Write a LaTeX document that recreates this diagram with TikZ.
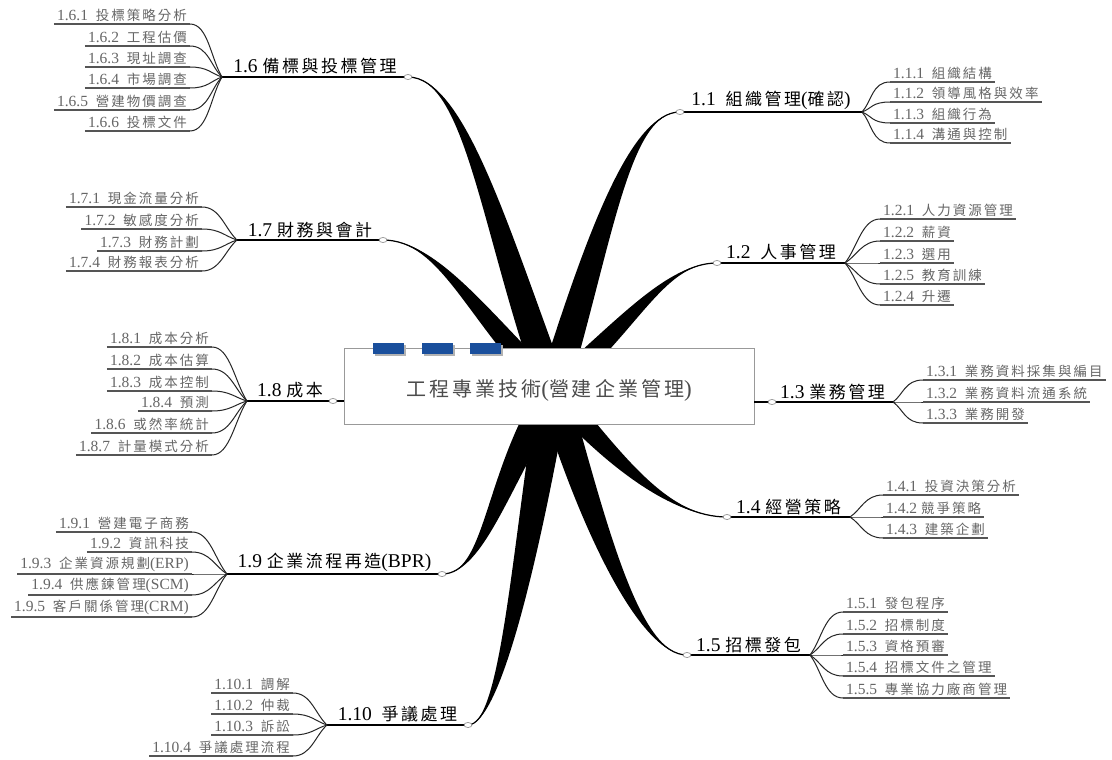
\documentclass[tikz,border=0pt]{standalone}
\usepackage{fontspec}
\setmainfont{Liberation Serif}
\newfontfamily\zhf[LetterSpace=15, Scale=0.87]{Noto Sans CJK TC}
\newcommand\zh[1]{{\zhf #1}}
\usetikzlibrary{calc,shadows,shapes.geometric}
\definecolor{subtxt}{HTML}{666666}
\definecolor{subln}{HTML}{555555}
\definecolor{boxblue}{HTML}{1A4F9C}
\tikzset{
  subnode/.style={font=\fontsize{15.5}{17}\selectfont, text=subtxt, inner xsep=3pt, inner ysep=2pt},
  mainnode/.style={font=\fontsize{19.5}{21}\selectfont, text=black, inner xsep=2pt, inner ysep=2pt},
  subul/.style={draw=subln, line width=1.5pt},
  subcurve/.style={draw=black!85, line width=1pt},
  mainline/.style={draw=black, line width=1.2pt},
  endcirc/.style={ellipse, draw=gray, fill=white, minimum width=8pt, minimum height=5pt, inner sep=0pt, line width=0.6pt},
  branchfill/.style={fill=black},
  branchline/.style={draw=black, line width=1.2pt},
  corebox/.style={draw=gray!80, fill=white, line width=0.8pt, minimum width=410pt, minimum height=76pt, inner sep=0pt},
  coretext/.style={font=\fontsize{23}{25}\selectfont, text=black!70},
  bluerect/.style={fill=boxblue, minimum width=31pt, minimum height=11pt, inner sep=0pt,
     drop shadow={shadow xshift=2pt, shadow yshift=-2pt, fill=gray!60, opacity=1}}
}
\newcommand\subL[4]{%
  \node[subnode, anchor=south east] (#1) at (#3) {#4};
  \draw[subul] (#1.south west) -- (#1.south east);
  \draw[subcurve] (#1.south east) .. controls +(18,0) and ($(#2)!0.35!(#1.south east)$) .. (#2);
}
\newcommand\subR[4]{%
  \node[subnode, anchor=south west] (#1) at (#3) {#4};
  \draw[subul] (#1.south west) -- (#1.south east);
  \draw[subcurve] (#2) .. controls ($(#2)!0.35!(#1.south west)$) and +(-18,0) .. (#1.south west);
}
\newcommand\branch[3]{%
  \fill[branchfill] ($(C)+(-16,0)$) .. controls ($#2+(-14,0)$) and #3 .. (#1) .. controls #3 and ($#2+(14,0)$) .. ($(C)+(16,0)$) -- cycle;
  \draw[branchline] (C) .. controls #2 and #3 .. (#1);
}
\begin{document}
\begin{tikzpicture}[x=1pt,y=-1pt]
\fill[white] (0,0) rectangle (1112,760);
\useasboundingbox (0,0) rectangle (1112,760);

\coordinate (C) at (553,390);
\coordinate (h16) at (222,77);  \coordinate (e16) at (408,77);
\coordinate (h17) at (237,240); \coordinate (e17) at (383,240);
\coordinate (h18) at (247,401); \coordinate (e18) at (333,401);
\coordinate (h19) at (227,574); \coordinate (e19) at (442,574);
\coordinate (h110) at (327,725); \coordinate (e110) at (468,725);
\coordinate (e11) at (680,112); \coordinate (h11) at (862,112);
\coordinate (e12) at (717,263); \coordinate (h12) at (845,263);
\coordinate (e13) at (772,402); \coordinate (h13) at (893,402);
\coordinate (e14) at (727,517); \coordinate (h14) at (850,517);
\coordinate (e15) at (687,655); \coordinate (h15) at (810,655);

% tapered branches
\branch{e16}{(495,230)}{(465,77)}
\branch{e17}{(482,322)}{(440,240)}
\branch{e19}{(497,480)}{(485,574)}
\branch{e110}{(525,560)}{(500,725)}
\branch{e11}{(600,235)}{(630,112)}
\branch{e12}{(628,325)}{(665,263)}
\branch{e14}{(614,462)}{(670,517)}
\branch{e15}{(594,530)}{(640,655)}

% central box
\node[corebox] (core) at (549,386) {};
\node[coretext] (coretxt) at (549,390) {\zh{工程專業技術}(\zh{營建企業管理})};
\node[bluerect] (b1) at (388,348) {};
\node[bluerect] (b2) at (437.5,348) {};
\node[bluerect] (b3) at (485.5,348) {};
\draw[mainline] (e18) -- (core.west |- e18);
\draw[mainline] (core.east |- e13) -- (e13);

% main topics
\draw[mainline] (h16) -- node[mainnode, above] (t16) {1.6 \zh{備標與投標管理}} (e16);
\draw[mainline] (h17) -- node[mainnode, above] (t17) {1.7 \zh{財務與會計}} (e17);
\draw[mainline] (h18) -- node[mainnode, above] (t18) {1.8 \zh{成本}} (e18);
\draw[mainline] (h19) -- node[mainnode, above] (t19) {1.9 \zh{企業流程再造}(BPR)} (e19);
\draw[mainline] (h110) -- node[mainnode, above] (t110) {1.10~~\zh{爭議處理}} (e110);
\draw[mainline] (e11) -- node[mainnode, above] (t11) {1.1~~\zh{組織管理}(\zh{確認})} (h11);
\draw[mainline] (e12) -- node[mainnode, above] (t12) {1.2~~\zh{人事管理}} (h12);
\draw[mainline] (e13) -- node[mainnode, above] (t13) {1.3 \zh{業務管理}} (h13);
\draw[mainline] (e14) -- node[mainnode, above] (t14) {1.4 \zh{經營策略}} (h14);
\draw[mainline] (e15) -- node[mainnode, above] (t15) {1.5 \zh{招標發包}} (h15);

\foreach \n in {e16,e17,e18,e19,e110,e11,e12,e13,e14,e15}
  \node[endcirc] (c\n) at (\n) {};

% 1.6
\subL{s161}{h16}{190,24}{1.6.1~~\zh{投標策略分析}}
\subL{s162}{h16}{190,46}{1.6.2~~\zh{工程估價}}
\subL{s163}{h16}{190,67}{1.6.3~~\zh{現址調查}}
\subL{s164}{h16}{190,88}{1.6.4~~\zh{市場調查}}
\subL{s165}{h16}{190,110}{1.6.5~~\zh{營建物價調查}}
\subL{s166}{h16}{190,131}{1.6.6~~\zh{投標文件}}
% 1.7
\subL{s171}{h17}{202,207}{1.7.1~~\zh{現金流量分析}}
\subL{s172}{h17}{202,229}{1.7.2~~\zh{敏感度分析}}
\subL{s173}{h17}{202,251}{1.7.3~~\zh{財務計劃}}
\subL{s174}{h17}{202,271}{1.7.4~~\zh{財務報表分析}}
% 1.8
\subL{s181}{h18}{212,347}{1.8.1~~\zh{成本分析}}
\subL{s182}{h18}{212,369}{1.8.2~~\zh{成本估算}}
\subL{s183}{h18}{212,391}{1.8.3~~\zh{成本控制}}
\subL{s184}{h18}{212,411}{1.8.4~~\zh{預測}}
\subL{s186}{h18}{212,433}{1.8.6~~\zh{或然率統計}}
\subL{s187}{h18}{212,455}{1.8.7~~\zh{計量模式分析}}
% 1.9
\subL{s191}{h19}{192,532}{1.9.1~~\zh{營建電子商務}}
\subL{s192}{h19}{192,552}{1.9.2~~\zh{資訊科技}}
\subL{s193}{h19}{192,574}{1.9.3~~\zh{企業資源規劃}(ERP)}
\subL{s194}{h19}{192,595}{1.9.4~~\zh{供應鍊管理}(SCM)}
\subL{s195}{h19}{192,617}{1.9.5~~\zh{客戶關係管理}(CRM)}
% 1.10
\subL{s1101}{h110}{293,693}{1.10.1~~\zh{調解}}
\subL{s1102}{h110}{293,714}{1.10.2~~\zh{仲裁}}
\subL{s1103}{h110}{293,735}{1.10.3~~\zh{訴訟}}
\subL{s1104}{h110}{293,756}{1.10.4~~\zh{爭議處理流程}}
% 1.1
\subR{s111}{h11}{890,82}{1.1.1~~\zh{組織結構}}
\subR{s112}{h11}{890,102}{1.1.2~~\zh{領導風格與效率}}
\subR{s113}{h11}{890,123}{1.1.3~~\zh{組織行為}}
\subR{s114}{h11}{890,143}{1.1.4~~\zh{溝通與控制}}
% 1.2
\subR{s121}{h12}{880,219}{1.2.1~~\zh{人力資源管理}}
\subR{s122}{h12}{880,241}{1.2.2~~\zh{薪資}}
\subR{s123}{h12}{880,263}{1.2.3~~\zh{選用}}
\subR{s125}{h12}{880,284}{1.2.5~~\zh{教育訓練}}
\subR{s124}{h12}{880,305}{1.2.4~~\zh{升遷}}
% 1.3
\subR{s131}{h13}{923,380}{1.3.1~~\zh{業務資料採集與編目}}
\subR{s132}{h13}{923,402}{1.3.2~~\zh{業務資料流通系統}}
\subR{s133}{h13}{923,423}{1.3.3~~\zh{業務開發}}
% 1.4
\subR{s141}{h14}{883,495}{1.4.1~~\zh{投資決策分析}}
\subR{s142}{h14}{883,517}{1.4.2 \zh{競爭策略}}
\subR{s143}{h14}{883,538}{1.4.3~~\zh{建築企劃}}
% 1.5
\subR{s151}{h15}{843,612}{1.5.1~~\zh{發包程序}}
\subR{s152}{h15}{843,634}{1.5.2~~\zh{招標制度}}
\subR{s153}{h15}{843,655}{1.5.3~~\zh{資格預審}}
\subR{s154}{h15}{843,676}{1.5.4~~\zh{招標文件之管理}}
\subR{s155}{h15}{843,698}{1.5.5~~\zh{專業協力廠商管理}}
\end{tikzpicture}
\end{document}
